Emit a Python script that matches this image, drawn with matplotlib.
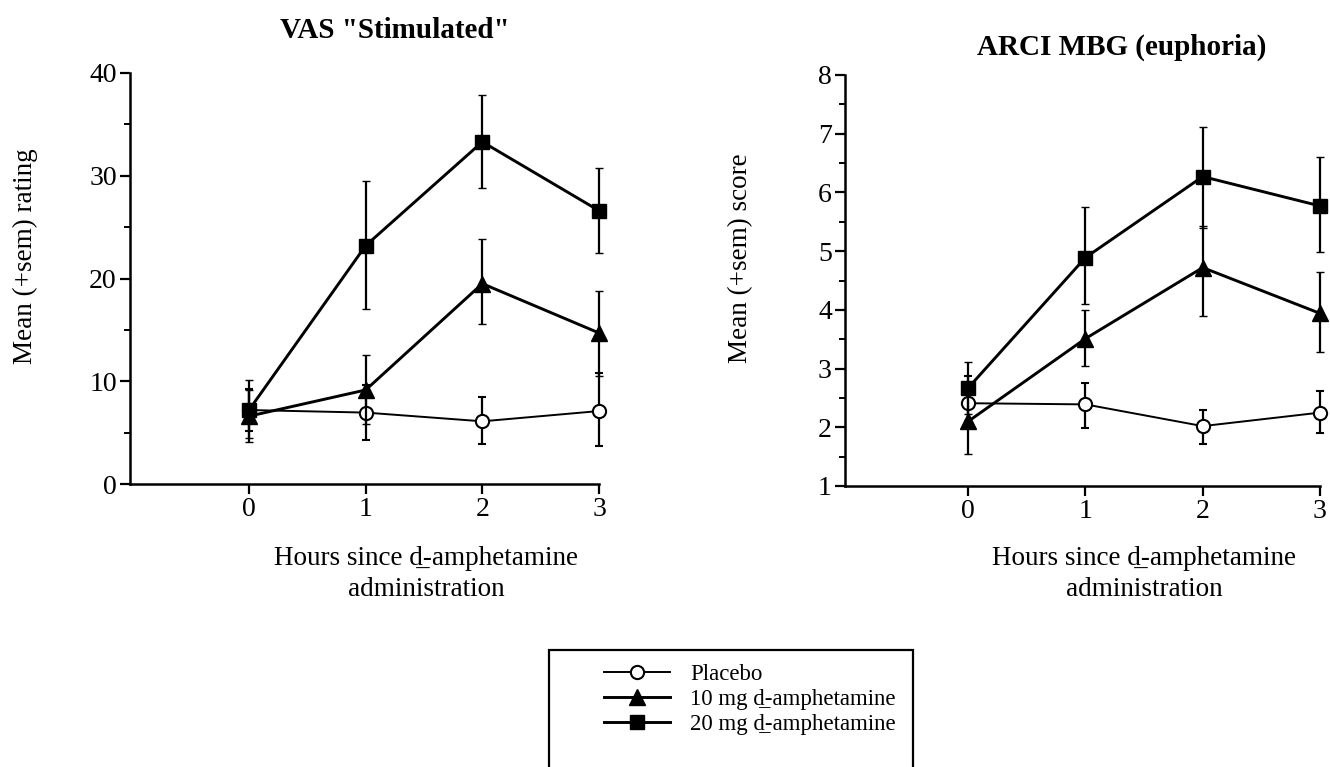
import matplotlib
matplotlib.use("Agg")
import matplotlib.pyplot as plt
from matplotlib.lines import Line2D
from matplotlib.patches import Rectangle
from matplotlib.ticker import MultipleLocator

plt.rcParams['font.family'] = ['Liberation Serif', 'DejaVu Serif']

# ---------------- data ----------------
hours = [0, 1, 2, 3]
series_labels = ["Placebo", "10 mg d\u0332-amphetamine", "20 mg d\u0332-amphetamine"]

# VAS "Stimulated"
vas_placebo = [7.2, 6.95, 6.1, 7.1]
vas_placebo_lo = [2.0, 2.65, 2.25, 3.4]
vas_placebo_hi = [2.0, 2.65, 2.4, 3.7]
vas_10mg = [6.6, 9.15, 19.5, 14.7]
vas_10mg_lo = [2.5, 3.35, 3.9, 4.2]
vas_10mg_hi = [2.55, 3.4, 4.3, 4.1]
vas_20mg = [7.2, 23.2, 33.3, 26.6]
vas_20mg_lo = [2.75, 6.2, 4.5, 4.1]
vas_20mg_hi = [2.9, 6.3, 4.6, 4.2]

# ARCI MBG (euphoria)
mbg_placebo = [2.41, 2.39, 2.02, 2.25]
mbg_placebo_lo = [0.3, 0.40, 0.31, 0.35]
mbg_placebo_hi = [0.46, 0.37, 0.28, 0.36]
mbg_10mg = [2.10, 3.51, 4.72, 3.94]
mbg_10mg_lo = [0.56, 0.47, 0.83, 0.66]
mbg_10mg_hi = [0.56, 0.48, 0.70, 0.70]
mbg_20mg = [2.67, 4.89, 6.27, 5.77]
mbg_20mg_lo = [0.44, 0.79, 0.87, 0.78]
mbg_20mg_hi = [0.44, 0.87, 0.84, 0.83]

W, H = 1330, 767
fig = plt.figure(figsize=(W / 100, H / 100), dpi=100)

ax1 = fig.add_axes([130 / W, 1 - 484 / H, 469 / W, 411 / H])
ax2 = fig.add_axes([845 / W, 1 - 486 / H, 475 / W, 411 / H])

styles = [
    dict(marker='o', markersize=9.5, markerfacecolor='white', lw=1.4, mew=1.5),
    dict(marker='^', markersize=11, markerfacecolor='black', lw=2.1, mew=1.0),
    dict(marker='s', markersize=10.5, markerfacecolor='black', lw=2.1, mew=1.0),
]


def draw(ax, groups):
    for (y, lo, hi), st, z in zip(groups, styles, [3, 4, 5]):
        ax.errorbar(hours, y, yerr=[lo, hi], color='black', ecolor='black',
                    elinewidth=1.6, capsize=2.8, capthick=2.0,
                    markeredgecolor='black', zorder=z, clip_on=False, **st)


draw(ax1, [(vas_placebo, vas_placebo_lo, vas_placebo_hi),
           (vas_10mg, vas_10mg_lo, vas_10mg_hi),
           (vas_20mg, vas_20mg_lo, vas_20mg_hi)])
draw(ax2, [(mbg_placebo, mbg_placebo_lo, mbg_placebo_hi),
           (mbg_10mg, mbg_10mg_lo, mbg_10mg_hi),
           (mbg_20mg, mbg_20mg_lo, mbg_20mg_hi)])

ax1.set_xlim(-1.02, 3.0)
ax1.set_ylim(0, 40)
ax1.yaxis.set_major_locator(MultipleLocator(10))
ax1.yaxis.set_minor_locator(MultipleLocator(5))

ax2.set_xlim(-1.05, 3.0)
ax2.set_ylim(1, 8)
ax2.yaxis.set_major_locator(MultipleLocator(1))
ax2.yaxis.set_minor_locator(MultipleLocator(0.5))

for ax in (ax1, ax2):
    ax.set_xticks(hours)
    ax.spines['top'].set_visible(False)
    ax.spines['right'].set_visible(False)
    for s in ('left', 'bottom'):
        ax.spines[s].set_linewidth(1.8)
    ax.tick_params(axis='both', which='major', direction='out', length=7,
                   width=1.6, labelsize=20, pad=2.5)
    ax.tick_params(axis='y', which='minor', direction='out', length=4, width=1.4)
    ax.tick_params(axis='x', which='minor', bottom=False)

# titles
fig.text(395 / W, 1 - 31 / H, 'VAS "Stimulated"', ha='center', va='center',
         fontsize=21, fontweight='bold')
fig.text(1122 / W, 1 - 47 / H, 'ARCI MBG (euphoria)', ha='center', va='center',
         fontsize=21, fontweight='bold')

# axis labels
xlab = "Hours since d\u0332-amphetamine\nadministration"
fig.text(426 / W, 1 - 574 / H, xlab, ha='center', va='center', fontsize=19.5,
         linespacing=1.35)
fig.text(1144 / W, 1 - 574 / H, xlab, ha='center', va='center', fontsize=19.5,
         linespacing=1.35)
fig.text(25 / W, 1 - 256 / H, "Mean (+sem) rating", ha='center', va='center',
         rotation=90, fontsize=19.5)
fig.text(741 / W, 1 - 258 / H, "Mean (+sem) score", ha='center', va='center',
         rotation=90, fontsize=19.5)

# legend
handles = []
for st in styles:
    handles.append(Line2D([], [], color='black', markeredgecolor='black', **st))
fig.legend(handles, series_labels, loc='upper left',
           bbox_to_anchor=(604 / W, 1 - 664 / H), frameon=False, fontsize=16.5,
           handlelength=2.9, handletextpad=0.85, labelspacing=0.18, borderpad=0.0,
           borderaxespad=0.0)
fig.patches.append(Rectangle((549 / W, -0.05), (913 - 549) / W, (1 - 650 / H) + 0.05,
                             transform=fig.transFigure, fill=False, lw=1.6,
                             edgecolor='black'))

fig.savefig("out.png", dpi=100)
